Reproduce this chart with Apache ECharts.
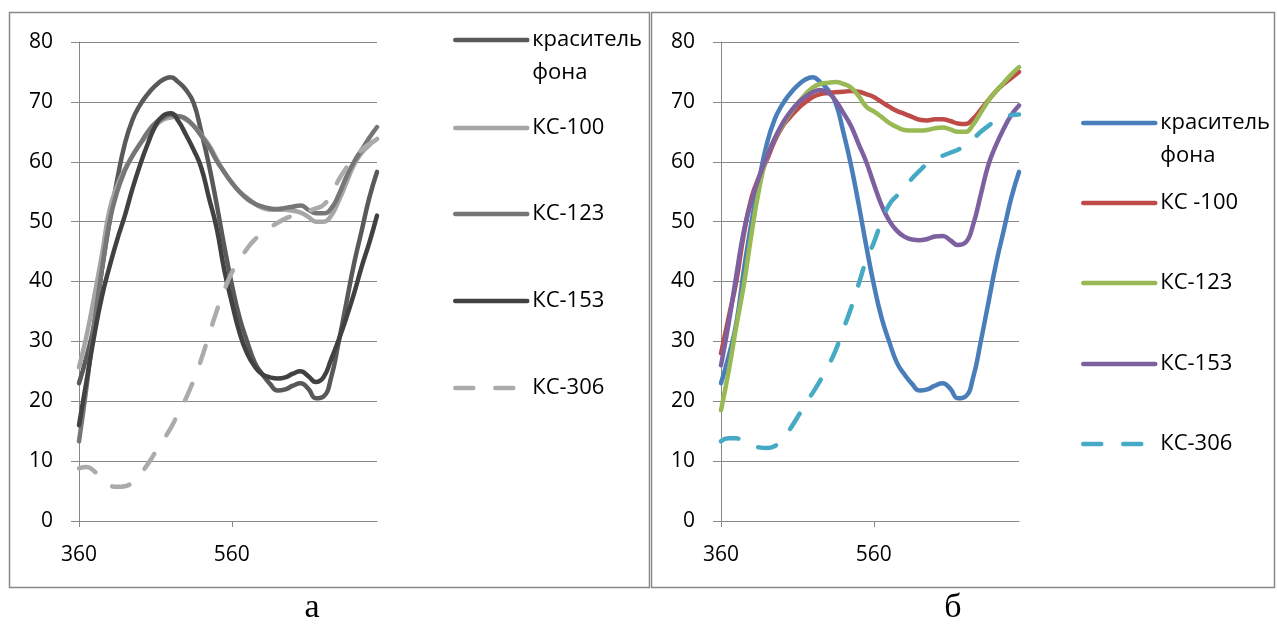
<!DOCTYPE html>
<html>
<head>
<meta charset="utf-8">
<script src="https://cdn.jsdelivr.net/npm/echarts@6/dist/echarts.min.js"></script>
<style>
  html, body { margin: 0; padding: 0; background: #fff; }
  #chartA { position: absolute; left: 0; top: 0; width: 650px; height: 624px; }
  #chartB { position: absolute; left: 650px; top: 0; width: 627px; height: 624px; }
</style>
</head>
<body>
<div id="chartA"></div>
<div id="chartB"></div>
<script>
// wavelength, nm (category axis, labels every 200 nm)
const wavelengths = ['360', '370', '380', '390', '400', '410', '420', '430', '440', '450',
  '460', '470', '480', '490', '500', '510', '520', '530', '540', '550',
  '560', '570', '580', '590', '600', '610', '620', '630', '640', '650',
  '660', '670', '680', '690', '700', '710', '720', '730', '740', '750'];

// background dye, same curve in both panels
const bgDye = [23, 27.5, 33, 42, 50, 57, 63, 67, 69.5, 71.3, 72.7, 73.7, 74.1, 73.3, 72, 69.8, 65, 59.5, 53, 46,
  39.5, 34, 30, 26.5, 24.5, 22.9, 21.8, 22, 22.6, 23, 22.1, 20.5, 20.8, 24, 30, 36.5, 43, 48.5, 54, 58.3];

// panel a
const ks100a = [25.7, 31, 37.5, 44.5, 52, 56, 58.8, 61, 63, 64.5, 66, 67, 67.4, 67.6, 67, 66, 64.5, 62.8, 60.5, 58.3,
  56.5, 55, 54, 53, 52.3, 52, 52, 52, 51.8, 51.5, 50.8, 50, 50, 51, 53.5, 56.5, 59.5, 61.5, 62.8, 63.8];
const ks123a = [13.3, 22.5, 33, 42, 50, 55, 58.5, 61, 63, 65, 66.5, 67.3, 67.8, 67.6, 67.2, 66, 64.3, 62.5, 60.2, 58.3,
  56.5, 55, 53.8, 53, 52.5, 52.2, 52.1, 52.3, 52.5, 52.7, 52, 51.4, 51.4, 52.2, 54.5, 57.5, 60, 62, 64, 65.8];
const ks153a = [16, 23.5, 31, 37.5, 42.5, 47, 51, 55.5, 59.5, 63, 66, 67.7, 68.1, 66.8, 64.5, 62, 59, 54, 49, 42,
  36.5, 31.5, 28, 25.8, 24.5, 24, 23.8, 24, 24.6, 25, 24.2, 23.2, 24, 27, 30.3, 34, 38, 42.5, 46.5, 51];
const ks306a = [8.8, 9, 8.3, 7, 6, 5.7, 5.8, 6.5, 7.8, 9.5, 11.5, 13.5, 15.5, 18, 20.5, 23.5, 27, 31, 35, 38.5,
  41.5, 43.5, 45.5, 47, 48, 49, 49.8, 50.5, 51, 51.5, 51.8, 52.2, 52.8, 54.5, 57, 59, 60.5, 62, 63, 63.7];

// panel б
const ks100b = [28, 34, 40, 48, 54, 57.5, 60.3, 63.4, 65.8, 67.4, 68.8, 69.9, 70.8, 71.3, 71.5, 71.6, 71.7, 71.8, 71.7, 71.3,
  70.8, 70, 69.2, 68.5, 68, 67.5, 67, 66.9, 67.1, 67.1, 66.8, 66.4, 66.3, 67.2, 68.7, 70.3, 71.8, 73, 74, 75];
const ks123b = [18.5, 25, 32.5, 39.5, 48, 55.5, 60.8, 63.8, 66, 68, 69.7, 71.2, 72.4, 73, 73.2, 73.3, 73, 72.4, 71, 69.2,
  68.4, 67.5, 66.5, 65.8, 65.3, 65.2, 65.2, 65.3, 65.6, 65.7, 65.4, 65, 65, 66.2, 68.2, 70.2, 71.8, 73.2, 74.6, 75.8];
const ks153b = [26, 33, 41, 48.5, 53.5, 57.5, 60.8, 63.8, 66.3, 68.2, 69.7, 70.8, 71.6, 72, 71.6, 70.2, 68.2, 66, 63, 60,
  56.3, 52.8, 50.2, 48.5, 47.5, 47, 46.9, 47.1, 47.5, 47.6, 46.9, 46.1, 46.5, 49.5, 54.5, 59.5, 62.8, 65.5, 67.8, 69.4];
const ks306b = [13.3, 13.8, 13.8, 13.2, 12.6, 12.3, 12.2, 12.5, 13.5, 15.3, 17.3, 19.5, 21.4, 23.5, 25.8, 28.5, 32, 35.5, 39.5, 43.5,
  46.5, 50, 52.8, 54.3, 55.5, 57.2, 58.5, 59.7, 60.5, 61, 61.5, 62, 62.8, 63.8, 65, 66, 66.9, 67.4, 67.8, 67.9];

const namesA = ['краситель фона', 'КС-100', 'КС-123', 'КС-153', 'КС-306'];
const namesB = ['краситель фона', 'КС -100', 'КС-123', 'КС-153', 'КС-306'];
const colorsA = ['#595959', '#a6a6a6', '#767676', '#414141', '#ababab'];
const colorsB = ['#4a7ebb', '#be4b48', '#98b954', '#7d60a0', '#46aac5'];

const gray = '#888888';
const font = 'Open Sans';

function panelOption(p) {
  const series = p.names.map(function (name, i) {
    return {
      name: name,
      type: 'line',
      data: p.values[i],
      smooth: 0.5,
      symbol: 'none',
      animation: false,
      itemStyle: { color: p.colors[i] },
      lineStyle: {
        color: p.colors[i],
        width: 4.5,
        cap: 'round',
        type: i === 4 ? [18, 22] : 'solid'
      }
    };
  });

  // one legend per item so each row sits where it is in the picture
  const legend = p.names.map(function (name, i) {
    const twoLine = i === 0;
    return {
      data: [name],
      left: p.legendLeft,
      top: twoLine ? p.legendY[i] - 49.5 : p.legendY[i] - 13,
      padding: 0,
      itemWidth: 72,
      itemHeight: 26,
      selectedMode: false,
      lineStyle: { width: 4.5 },
      // hide the marker dot, keep only the line sample
      itemStyle: { color: 'rgba(0,0,0,0)', borderWidth: 0, opacity: 0 },
      // empty first line keeps "краситель" level with the line sample
      formatter: twoLine ? function (n) { return '\n' + n.replace(' ', '\n'); } : '{name}',
      textStyle: {
        fontFamily: font,
        fontSize: 22,
        color: '#000',
        lineHeight: twoLine ? 33 : 26
      }
    };
  });

  return {
    animation: false,
    grid: { left: p.gridLeft, top: 42, width: 298, height: 479, containLabel: false, outerBoundsMode: 'none' },
    xAxis: {
      type: 'category',
      data: wavelengths,
      boundaryGap: false,
      axisLine: { lineStyle: { color: gray, width: 1 } },
      axisTick: { interval: 19, length: 6, lineStyle: { color: gray } },
      axisLabel: { interval: 19, margin: 24, fontFamily: font, fontSize: 21, color: '#000' },
      splitLine: { show: false }
    },
    yAxis: {
      type: 'value',
      min: 0,
      max: 80,
      interval: 10,
      axisLine: { show: true, lineStyle: { color: gray, width: 1 } },
      axisTick: { show: true, length: 8, lineStyle: { color: gray } },
      axisLabel: { margin: 26, fontFamily: font, fontSize: 21, color: '#000' },
      splitLine: { lineStyle: { color: gray, width: 1 } }
    },
    legend: legend,
    series: series,
    graphic: [
      {
        type: 'rect',
        silent: true,
        shape: { x: p.box[0], y: p.box[1], width: p.box[2], height: p.box[3] },
        style: { fill: 'none', stroke: gray, lineWidth: 1.5 }
      },
      {
        type: 'text',
        x: p.captionX,
        y: 608,
        style: {
          text: p.caption,
          font: '34px "Liberation Serif"',
          fill: '#000',
          align: 'center',
          verticalAlign: 'middle'
        }
      }
    ]
  };
}

const chartA = echarts.init(document.getElementById('chartA'));
chartA.setOption(panelOption({
  names: namesA,
  colors: colorsA,
  values: [bgDye, ks100a, ks123a, ks153a, ks306a],
  gridLeft: 79,
  legendLeft: 453,
  legendY: [40, 128, 214, 301, 388],
  box: [9.5, 12.5, 640, 575],
  caption: 'а',
  captionX: 312
}));

const chartB = echarts.init(document.getElementById('chartB'));
chartB.setOption(panelOption({
  names: namesB,
  colors: colorsB,
  values: [bgDye, ks100b, ks123b, ks153b, ks306b],
  gridLeft: 71,
  legendLeft: 431,
  legendY: [123, 203, 283, 364, 444],
  box: [1.5, 12.5, 623, 575],
  caption: 'б',
  captionX: 303
}));
</script>
</body>
</html>
